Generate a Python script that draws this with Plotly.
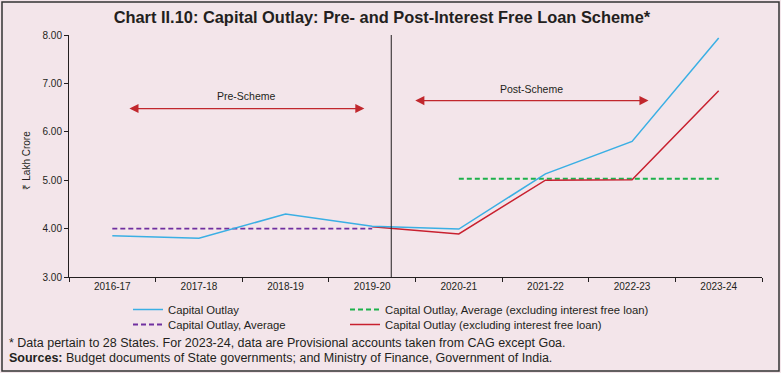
import plotly.graph_objects as go

categories = ["2016-17", "2017-18", "2018-19", "2019-20", "2020-21", "2021-22", "2022-23", "2023-24"]
capital_outlay = [3.85, 3.80, 4.30, 4.05, 3.99, 5.13, 5.80, 7.94]
capital_outlay_excl = [None, None, None, 4.04, 3.89, 5.00, 5.01, 6.85]
avg_pre = [4.00, 4.00, 4.00, 4.00, None, None, None, None]
avg_post_excl = [None, None, None, None, 5.03, 5.03, 5.03, 5.03]

BG = "#F3E5EA"
FONT = "Liberation Sans, Arial, sans-serif"
TXT = "#231F20"

W, H = 781, 373
ML, MR, MT, MB = 69, 19, 35, 96
PW, PH = W - ML - MR, H - MT - MB
YB = MT + PH  # pixel of the x axis


def py(p):
    return (YB - p) / PH


def px(p):
    return (p - ML) / PW


fig = go.Figure()
fig.add_trace(go.Scatter(x=categories, y=avg_post_excl, mode="lines", name="Capital Outlay, Average (excluding interest free loan)",
                         line=dict(color="#1DB14B", width=1.8, dash="5px,3px"), legend="legend2"))
fig.add_trace(go.Scatter(x=categories, y=avg_pre, mode="lines", name="Capital Outlay, Average",
                         line=dict(color="#7030A0", width=1.8, dash="5px,3px"), legend="legend3"))
fig.add_trace(go.Scatter(x=categories, y=capital_outlay_excl, mode="lines", name="Capital Outlay (excluding interest free loan)",
                         line=dict(color="#C8202F", width=1.5), legend="legend4"))
fig.add_trace(go.Scatter(x=categories, y=capital_outlay, mode="lines", name="Capital Outlay",
                         line=dict(color="#3AAFE4", width=1.5), legend="legend"))

# divider between pre and post scheme
fig.add_shape(type="line", xref="x", yref="y", x0=3.22, x1=3.22, y0=3, y1=8,
              line=dict(color="#231F20", width=1))

ARROW = "#C1272D"
for (xa, xb, ya, label, yt) in [(0.18, 2.91, 6.48, "Pre-Scheme", 6.73), (3.48, 6.19, 6.645, "Post-Scheme", 6.89)]:
    fig.add_annotation(x=xb, y=ya, ax=xa, ay=ya, xref="x", yref="y", axref="x", ayref="y",
                       text="", showarrow=True, arrowhead=2, arrowside="end+start",
                       arrowsize=1.4, arrowwidth=1.3, arrowcolor=ARROW)
    fig.add_annotation(x=(xa + xb) / 2, y=yt, xref="x", yref="y", text=label, showarrow=False,
                       font=dict(size=10.5, color=TXT, family=FONT))

# y-axis title
fig.add_annotation(x=px(18), y=py(160), xref="paper", yref="paper",
                   text="₹ Lakh Crore", textangle=-90, showarrow=False,
                   font=dict(size=10, color=TXT, family=FONT))

# footnotes
fig.add_annotation(x=px(7), y=py(343), xref="paper", yref="paper", xanchor="left", yanchor="middle",
                   text="* Data pertain to 28 States. For 2023-24, data are Provisional accounts taken from CAG except Goa.",
                   showarrow=False, font=dict(size=12.5, color=TXT, family=FONT))
fig.add_annotation(x=px(7), y=py(358), xref="paper", yref="paper", xanchor="left", yanchor="middle",
                   text="<b>Sources:</b> Budget documents of State governments; and Ministry of Finance, Government of India.",
                   showarrow=False, font=dict(size=12.5, color=TXT, family=FONT))

# outer border
fig.add_shape(type="rect", xref="paper", yref="paper",
              x0=px(2), x1=px(W - 2), y0=py(H - 2), y1=py(2),
              line=dict(color="#333333", width=1.5), fillcolor="rgba(0,0,0,0)", layer="below")

legend_common = dict(orientation="h", xanchor="left", yanchor="top", bgcolor="rgba(0,0,0,0)",
                     font=dict(size=11.3, color=TXT, family=FONT), itemwidth=30)

fig.update_layout(
    width=W, height=H,
    margin=dict(l=ML, r=MR, t=MT, b=MB),
    paper_bgcolor=BG, plot_bgcolor=BG,
    font=dict(family=FONT, color=TXT, size=10),
    title=dict(text="<b>Chart II.10: Capital Outlay: Pre- and Post-Interest Free Loan Scheme*</b>",
               x=0.489, xanchor="center", y=1 - 17 / H, yanchor="middle",
               font=dict(size=16.4, color=TXT, family=FONT)),
    showlegend=True,
    legend=dict(x=px(128), y=py(295), **legend_common),
    legend2=dict(x=px(345), y=py(295), **legend_common),
    legend3=dict(x=px(128), y=py(310), **legend_common),
    legend4=dict(x=px(345), y=py(310), **legend_common),
    xaxis=dict(type="category", range=[-0.5, 7.5], tickson="boundaries", ticks="outside", ticklen=4,
               tickcolor="#231F20", showline=True, linecolor="#231F20", linewidth=1, showgrid=False,
               zeroline=False, tickfont=dict(size=10, color=TXT), fixedrange=True),
    yaxis=dict(range=[3, 8], dtick=1, tickformat=".2f", ticks="outside", ticklen=4, tickcolor="#231F20",
               showline=True, linecolor="#231F20", linewidth=1, showgrid=False, zeroline=False,
               tickfont=dict(size=10, color=TXT), fixedrange=True),
)

fig.write_html("out.html", config={"displayModeBar": False},
               post_script="document.body.style.margin='0px';document.body.style.background='%s';" % BG)
